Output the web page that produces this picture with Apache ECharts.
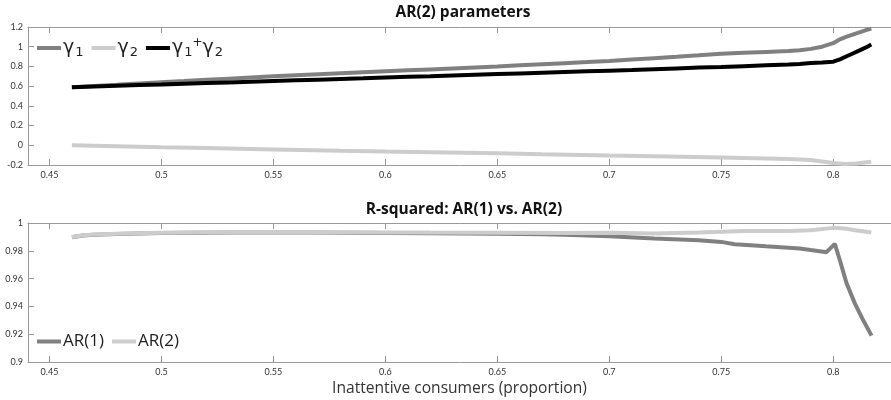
<!DOCTYPE html>
<html><head><meta charset="utf-8">
<script src="https://cdn.jsdelivr.net/npm/echarts@6/dist/echarts.min.js"></script>
<style>html,body{margin:0;padding:0;background:#fff}#c{width:891px;height:400px}</style>
</head><body><div id="c"></div>
<script>
// ---- data ----
const xTicks = [0.45, 0.5, 0.55, 0.6, 0.65, 0.7, 0.75, 0.8];

const xG1 = [0.46,0.47,0.48,0.49,0.50,0.51,0.52,0.53,0.54,0.55,0.56,0.57,0.58,0.59,0.60,0.61,0.62,0.63,0.64,0.65,0.66,0.67,0.68,0.69,0.70,0.71,0.72,0.73,0.74,0.75,0.76,0.77,0.78,0.785,0.79,0.795,0.80,0.803,0.806,0.809,0.812,0.815,0.817];
const gamma1 = [0.590,0.602,0.614,0.627,0.639,0.651,0.664,0.676,0.688,0.700,0.710,0.720,0.730,0.740,0.750,0.760,0.770,0.780,0.790,0.800,0.811,0.822,0.833,0.844,0.856,0.870,0.884,0.898,0.913,0.929,0.938,0.947,0.956,0.964,0.978,1.000,1.036,1.075,1.103,1.126,1.148,1.170,1.184];
const gammaSum = [0.590,0.597,0.604,0.611,0.617,0.624,0.631,0.638,0.645,0.652,0.659,0.666,0.673,0.680,0.688,0.695,0.701,0.708,0.715,0.722,0.729,0.736,0.743,0.750,0.757,0.764,0.772,0.780,0.788,0.795,0.803,0.811,0.819,0.825,0.834,0.840,0.848,0.872,0.903,0.934,0.965,0.997,1.022];

const xG2 = [0.46,0.48,0.50,0.52,0.55,0.58,0.60,0.62,0.65,0.67,0.70,0.72,0.75,0.78,0.79,0.80,0.805,0.81,0.817];
const gamma2 = [0.000,-0.010,-0.020,-0.028,-0.042,-0.055,-0.063,-0.070,-0.080,-0.090,-0.103,-0.110,-0.125,-0.140,-0.150,-0.180,-0.190,-0.185,-0.168];

const xAR2 = [0.46,0.465,0.47,0.48,0.49,0.50,0.52,0.55,0.58,0.60,0.62,0.65,0.68,0.70,0.72,0.74,0.76,0.78,0.79,0.80,0.805,0.81,0.817];
const ar2 = [0.9900,0.9912,0.9918,0.9923,0.9927,0.9930,0.9933,0.9935,0.9934,0.9932,0.9931,0.9930,0.9928,0.9929,0.9924,0.9932,0.9942,0.9942,0.9948,0.9965,0.9960,0.9948,0.9932];

const xAR1 = [0.46,0.465,0.47,0.48,0.50,0.55,0.60,0.62,0.65,0.67,0.68,0.70,0.72,0.74,0.75,0.756,0.77,0.785,0.79,0.797,0.8007,0.803,0.806,0.8097,0.8134,0.8171];
const ar1 = [0.9898,0.9910,0.9916,0.9921,0.9928,0.9933,0.9928,0.9926,0.9922,0.9919,0.9915,0.9904,0.9889,0.9876,0.9864,0.9847,0.9832,0.9816,0.9805,0.9790,0.9850,0.9730,0.9564,0.9420,0.9300,0.9190];

const topYMin = -0.2, topYMax = 1.2, topYStep = 0.2;
const botYMin = 0.9, botYMax = 1.0, botYStep = 0.02;
const xMin = 0.4404, xMax = 0.8258;

// ---- chart ----
const pair = (xs, ys) => xs.map((x, i) => [x, ys[i]]);
const AX = '#999';
const LBL = '#333';
const FONT = 'Lato, "Noto Sans", sans-serif';
const WIDE = '"Open Sans", "Noto Sans", sans-serif';
const fmt2 = v => String(+(+v).toFixed(2));

function xAxisBottom(grid, name) {
  return {
    type: 'value', gridIndex: grid, min: xMin, max: xMax, position: 'bottom',
    axisLine: { show: true, onZero: false, lineStyle: { color: AX } },
    axisTick: { show: true, inside: true, length: 6, customValues: xTicks, lineStyle: { color: AX } },
    axisLabel: { show: true, customValues: xTicks, formatter: fmt2, fontSize: 9, color: LBL, margin: 6, fontFamily: FONT },
    splitLine: { show: false },
    name: name || '', nameLocation: 'middle', nameGap: 19,
    nameTextStyle: { fontSize: 15.6, color: '#333', fontFamily: WIDE }
  };
}
function xAxisTop(grid) {
  return {
    type: 'value', gridIndex: grid, min: xMin, max: xMax, position: 'top',
    axisLine: { show: true, onZero: false, lineStyle: { color: AX } },
    axisTick: { show: true, inside: true, length: 6, customValues: xTicks, lineStyle: { color: AX } },
    axisLabel: { show: false }, splitLine: { show: false }
  };
}
function yAxis(grid, mn, mx, st, dec) {
  return {
    type: 'value', gridIndex: grid, min: mn, max: mx, interval: st,
    axisLine: { show: true, onZero: false, lineStyle: { color: AX } },
    axisTick: { show: true, inside: true, length: 6, lineStyle: { color: AX } },
    axisLabel: { fontSize: 9, color: LBL, margin: 5, fontFamily: FONT, formatter: v => String(+(+v).toFixed(dec)) },
    splitLine: { show: false }
  };
}

const gname = { 'γ1': '{g|γ}{s|1}', 'γ2': '{g|γ}{s|2}', 'γ1+γ2': '{g|γ}{s|1}{p|+}{g|γ}{s|2}' };
const richG = {
  g: { fontSize: 19, fontFamily: '"DejaVu Sans", sans-serif', color: '#222', verticalAlign: 'middle' },
  s: { fontSize: 13, fontFamily: '"DejaVu Sans", sans-serif', color: '#222', verticalAlign: 'bottom', padding: [9, 0, 0, 1] },
  p: { fontSize: 12, fontFamily: '"DejaVu Sans", sans-serif', color: '#222', verticalAlign: 'top', padding: [0, 0, 7, 0] }
};

const option = {
  animation: false,
  backgroundColor: '#fff',
  title: [
    { text: 'AR(2) parameters', left: 463, top: 5, textAlign: 'center', padding: 0,
      textStyle: { fontSize: 15.5, fontWeight: 'bold', color: '#111', fontFamily: WIDE } },
    { text: 'R-squared: AR(1) vs. AR(2)', left: 464, top: 202, textAlign: 'center', padding: 0,
      textStyle: { fontSize: 15.5, fontWeight: 'bold', color: '#111', fontFamily: WIDE } }
  ],
  grid: [
    { left: 28, right: 0, top: 27, height: 138 },
    { left: 28, right: 0, top: 223, height: 139 }
  ],
  legend: [
    { data: ['γ1', 'γ2', 'γ1+γ2'], left: 37, top: 37, padding: 0, icon: 'rect', itemWidth: 24, itemHeight: 4, itemGap: 8,
      formatter: n => gname[n], textStyle: { rich: richG, padding: [0, 0, 0, -3] } },
    { data: ['AR(1)', 'AR(2)'], left: 37, top: 333, padding: 0, icon: 'rect', itemWidth: 24, itemHeight: 4, itemGap: 8,
      textStyle: { fontSize: 17, color: '#222', fontFamily: WIDE, padding: [0, 0, 0, -3] } }
  ],
  xAxis: [xAxisBottom(0), xAxisTop(0), xAxisBottom(1, 'Inattentive consumers (proportion)'), xAxisTop(1)],
  yAxis: [yAxis(0, topYMin, topYMax, topYStep, 1), yAxis(1, botYMin, botYMax, botYStep, 2)],
  series: [
    { name: 'γ1', type: 'line', xAxisIndex: 0, yAxisIndex: 0, data: pair(xG1, gamma1), showSymbol: false,
      lineStyle: { width: 4, color: '#808080' }, itemStyle: { color: '#808080' } },
    { name: 'γ2', type: 'line', xAxisIndex: 0, yAxisIndex: 0, data: pair(xG2, gamma2), showSymbol: false,
      lineStyle: { width: 4, color: '#cccccc' }, itemStyle: { color: '#cccccc' } },
    { name: 'γ1+γ2', type: 'line', xAxisIndex: 0, yAxisIndex: 0, data: pair(xG1, gammaSum), showSymbol: false,
      lineStyle: { width: 4, color: '#000000' }, itemStyle: { color: '#000000' } },
    { name: 'AR(1)', type: 'line', xAxisIndex: 2, yAxisIndex: 1, data: pair(xAR1, ar1), showSymbol: false,
      lineStyle: { width: 4, color: '#808080' }, itemStyle: { color: '#808080' } },
    { name: 'AR(2)', type: 'line', xAxisIndex: 2, yAxisIndex: 1, data: pair(xAR2, ar2), showSymbol: false,
      lineStyle: { width: 4, color: '#cccccc' }, itemStyle: { color: '#cccccc' } }
  ]
};
echarts.init(document.getElementById('c'), null, { renderer: 'canvas' }).setOption(option);
</script></body></html>
